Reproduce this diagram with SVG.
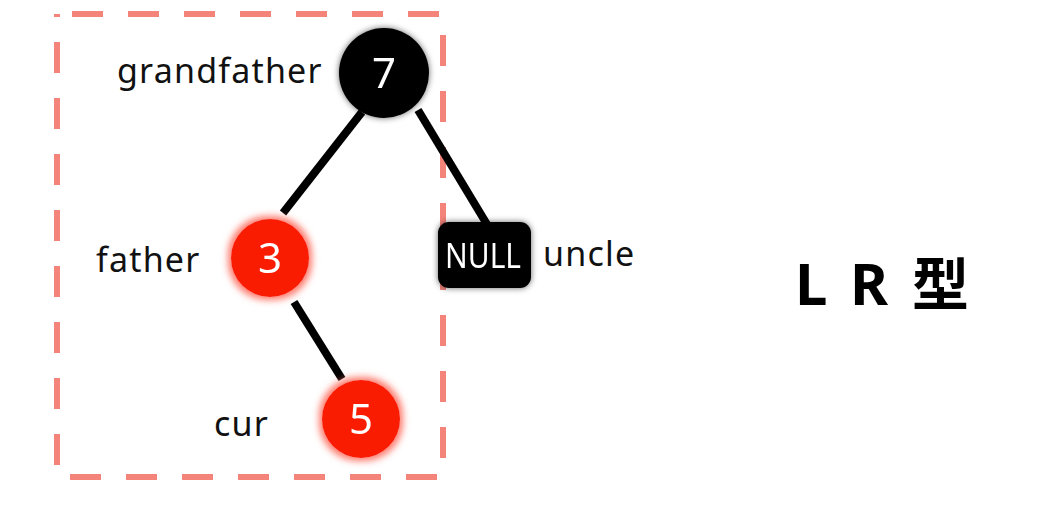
<svg xmlns="http://www.w3.org/2000/svg" width="1038" height="521" viewBox="0 0 1038 521">
<style>
.lbl{font-family:"Noto Sans","Open Sans",sans-serif;font-size:34px;fill:#111;letter-spacing:1.2px}
.num{font-family:"Noto Sans","Open Sans",sans-serif;font-size:42px;fill:#fff;text-anchor:middle}
.edge{stroke:#000;stroke-width:8;stroke-linecap:butt}
.red{fill:#fa1a05}
</style>
<defs>
<filter id="glowR" x="-50%" y="-50%" width="200%" height="200%">
<feMorphology in="SourceAlpha" operator="dilate" radius="3" result="d"/>
<feGaussianBlur in="d" stdDeviation="3.5" result="b"/>
<feFlood flood-color="#ff6a5a" flood-opacity="0.9"/>
<feComposite in2="b" operator="in" result="g"/>
<feMerge><feMergeNode in="g"/><feMergeNode in="SourceGraphic"/></feMerge>
</filter>
<filter id="glowK" x="-50%" y="-50%" width="200%" height="200%">
<feGaussianBlur in="SourceAlpha" stdDeviation="3" result="b"/>
<feFlood flood-color="#000" flood-opacity="0.6"/>
<feComposite in2="b" operator="in" result="g"/>
<feMerge><feMergeNode in="g"/><feMergeNode in="SourceGraphic"/></feMerge>
</filter>
</defs>
<rect width="1038" height="521" fill="#fff"/>
<rect x="57" y="14" width="386" height="463" fill="none" stroke="#f4837a" stroke-width="6" stroke-dasharray="31 25" stroke-dashoffset="41"/>
<g id="connectors">
<line class="edge" x1="362" y1="112" x2="283" y2="213"/>
<line class="edge" x1="418" y1="110" x2="488" y2="226"/>
<line class="edge" x1="294" y1="302" x2="342" y2="379"/>
</g>
<g id="n7" filter="url(#glowK)">
<circle cx="384" cy="73" r="45" fill="#000"/>
<text class="num" x="384" y="88">7</text>
</g>
<text class="lbl" x="117" y="83">grandfather</text>
<g id="n3" filter="url(#glowR)">
<circle class="red" cx="270" cy="258" r="39"/>
<text class="num" x="270" y="273">3</text>
</g>
<text class="lbl" x="96" y="272">father</text>
<g id="n5" filter="url(#glowR)">
<circle class="red" cx="361" cy="419" r="39"/>
<text class="num" x="361" y="434">5</text>
</g>
<text class="lbl" x="214" y="436">cur</text>
<g id="nnull" filter="url(#glowK)">
<rect x="438" y="222" width="93" height="66" rx="11" fill="#000"/>
<text x="445" y="268" textLength="76" lengthAdjust="spacingAndGlyphs" style="font-family:'Noto Sans',sans-serif;font-size:34px;fill:#fff">NULL</text>
</g>
<text class="lbl" x="543" y="266">uncle</text>
<text style="font-family:'Noto Sans','Noto Sans CJK SC',sans-serif;font-size:58px;font-weight:bold;fill:#000" y="305"><tspan x="795">L</tspan><tspan x="850">R</tspan><tspan x="912" style="font-family:'Noto Sans CJK SC',sans-serif;font-size:57px">型</tspan></text>
</svg>
